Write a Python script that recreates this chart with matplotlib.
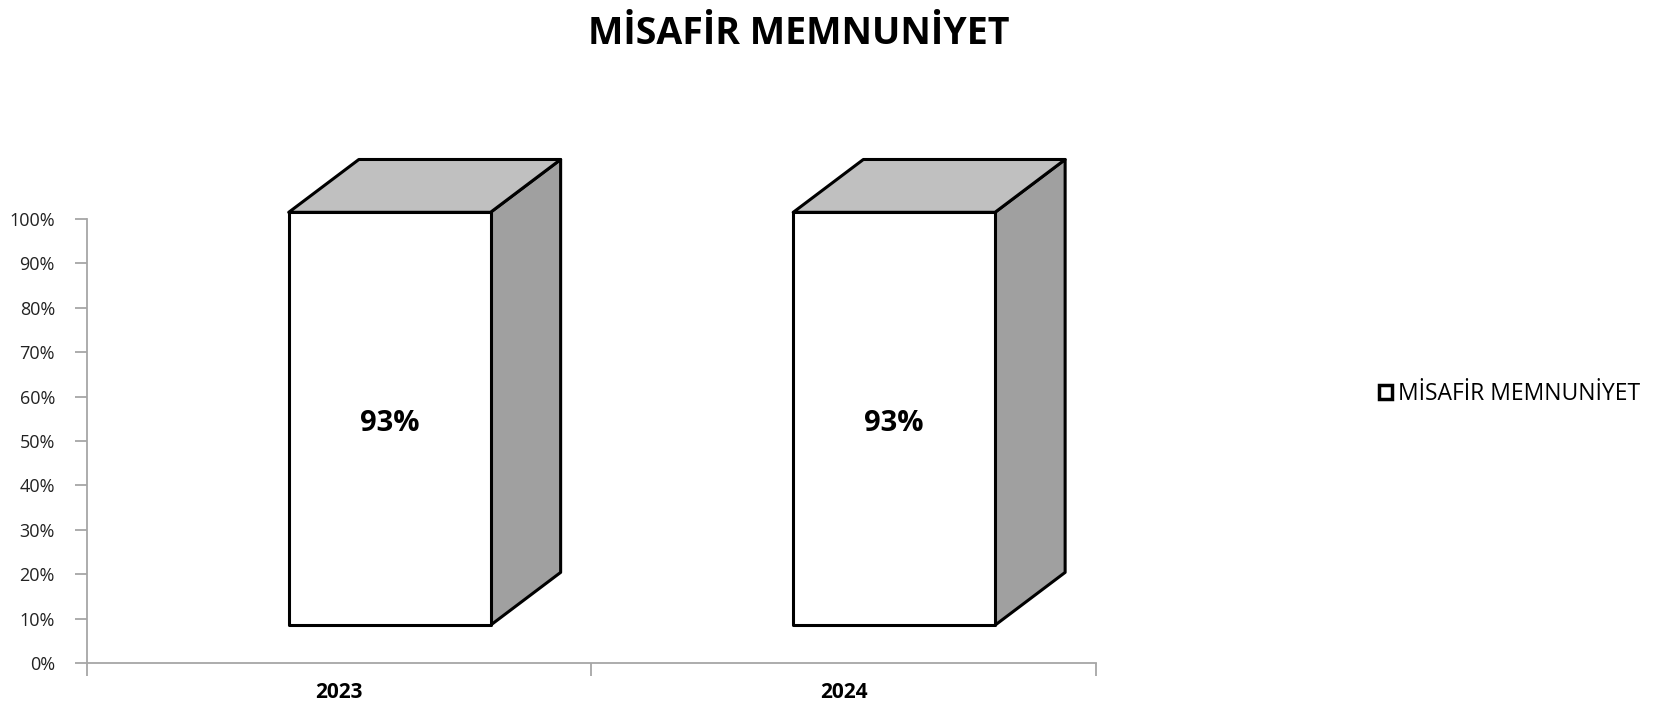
import matplotlib
matplotlib.use("Agg")
import matplotlib.pyplot as plt
from matplotlib.patches import Polygon, Rectangle, Patch

# veri
years = ["2023", "2024"]
satisfaction = [0.93, 0.93]
yticks = [i / 10 for i in range(11)]
ytick_labels = [f"{int(t * 100)}%" for t in yticks]
series_name = "MİSAFİR MEMNUNİYET"

plt.rcParams["font.family"] = ["Open Sans", "DejaVu Sans"]

fig = plt.figure(figsize=(16.78, 7.08), dpi=100)
ax = fig.add_axes([0.0518, 0.0636, 0.6013, 0.6271])

# perspektif (Excel 3B görünümü taklidi)
base = 0.085      # ön yüzün tabanı
left_off = 0.40   # kategori içinde ön yüz başlangıcı
width = 0.40
dx, dy = 0.139, 0.119

for i, (yr, v) in enumerate(zip(years, satisfaction)):
    x0 = i + left_off
    x1 = x0 + width
    y0 = base
    y1 = base + v
    top = Polygon([(x0, y1), (x1, y1), (x1 + dx, y1 + dy), (x0 + dx, y1 + dy)],
                  closed=True, facecolor="#c0c0c0", edgecolor="black", lw=2.2,
                  clip_on=False, joinstyle="round")
    side = Polygon([(x1, y0), (x1 + dx, y0 + dy), (x1 + dx, y1 + dy), (x1, y1)],
                   closed=True, facecolor="#a0a0a0", edgecolor="black", lw=2.2,
                   clip_on=False, joinstyle="round")
    front = Rectangle((x0, y0), width, v, facecolor="white", edgecolor="black",
                      lw=2.2, clip_on=False, joinstyle="round")
    ax.add_patch(side)
    ax.add_patch(top)
    ax.add_patch(front)
    ax.text(x0 + width / 2, y0 + v / 2 - 0.01, f"{int(round(v * 100))}%",
            ha="center", va="center", fontsize=21, fontweight="bold", color="black")

ax.set_xlim(0, len(years))
ax.set_ylim(0, 1)

ax.set_yticks(yticks)
ax.set_yticklabels(ytick_labels)
ax.set_xticks(range(len(years) + 1))
ax.set_xticklabels([])
ax.set_xticks([i + 0.5 for i in range(len(years))], minor=True)
ax.set_xticklabels(years, minor=True, fontweight="bold")

for s in ["top", "right"]:
    ax.spines[s].set_visible(False)
for s in ["left", "bottom"]:
    ax.spines[s].set_color("#a6a6a6")
    ax.spines[s].set_linewidth(1.3)

ax.tick_params(axis="y", direction="out", length=9, width=1.3, color="#a6a6a6",
               labelsize=13, labelcolor="#222222", pad=14)
ax.tick_params(axis="x", which="major", direction="out", length=9, width=1.3,
               color="#a6a6a6")
ax.tick_params(axis="x", which="minor", length=0, labelsize=15,
               labelcolor="black", pad=14)

fig.text(0.476, 0.952, series_name, ha="center", va="center",
         fontsize=27, fontweight="bold")

handle = Patch(facecolor="white", edgecolor="black", lw=2.5)
fig.legend([handle], [series_name], loc="center left",
           bbox_to_anchor=(0.822, 0.443), frameon=False, fontsize=16.5,
           handlelength=0.55, handleheight=0.55, handletextpad=0.25,
           borderaxespad=0, borderpad=0)

fig.savefig("out.png", dpi=100)
